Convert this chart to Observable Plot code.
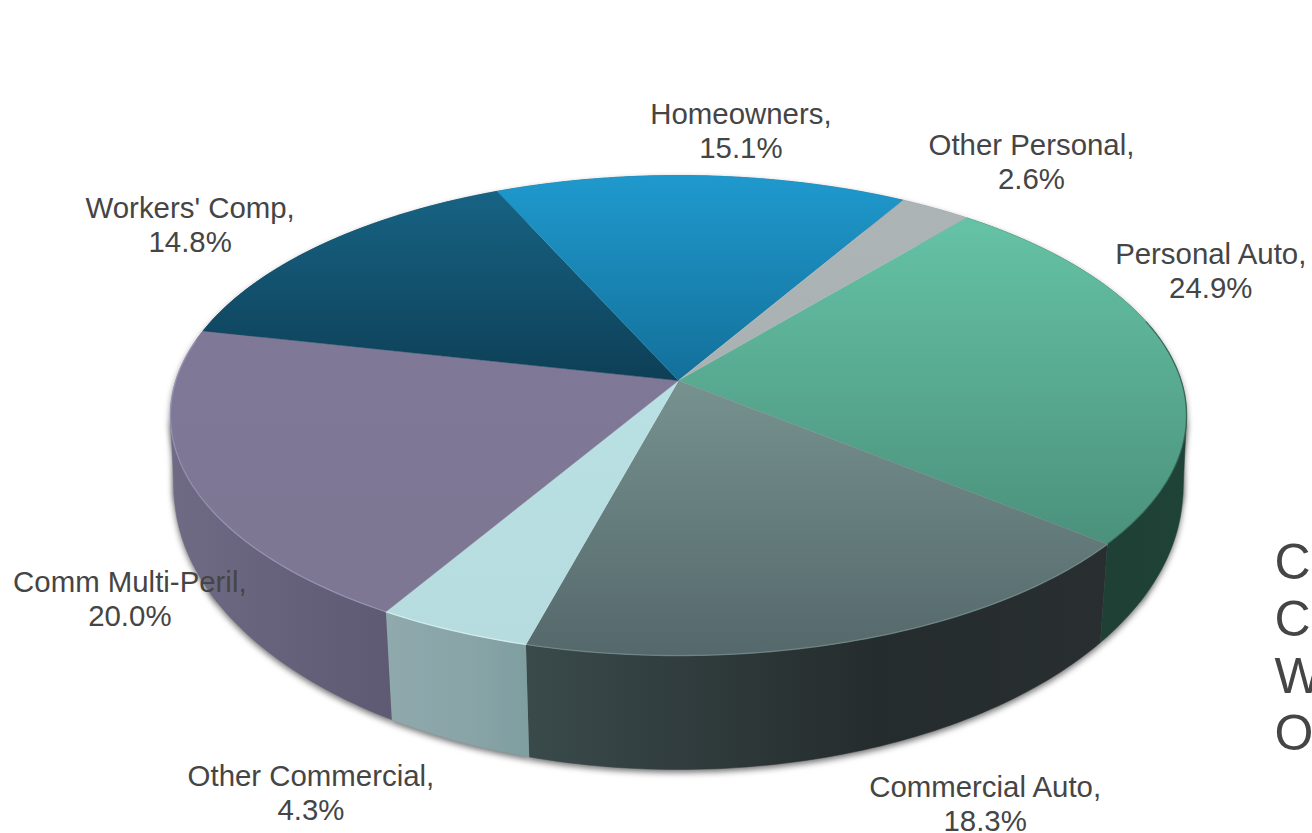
<!DOCTYPE html>
<html>
<head>
<meta charset="utf-8">
<script src="https://cdn.jsdelivr.net/npm/d3@7"></script>
<script src="https://cdn.jsdelivr.net/npm/@observablehq/plot@0.6"></script>
<style>
  html, body { margin: 0; padding: 0; background: #fff; overflow: hidden; }
  svg { display: block; }
</style>
</head>
<body>
<div id="chart"></div>
<script>
// Premium mix by line of business, clockwise from the 40-degree mark
const lines = ["Personal Auto", "Commercial Auto", "Other Commercial", "Comm Multi-Peril", "Workers' Comp", "Homeowners", "Other Personal"];
const shares = [24.9, 18.3, 4.3, 20.0, 14.8, 15.1, 2.6];
const legendStubs = ["Co", "Co", "W", "O"];

// Colours: top face gradient, side wall gradient, rim highlight
const topFrom = ["#65c3a5", "#76928f", "#b9e0e3", "#7f7897", "#176384", "#1f99cd", "#adb4b6"];
const topTo = ["#4b917b", "#55686b", "#b6dcdf", "#7d7793", "#0e3f57", "#13709a", "#a9b1b3"];
const sideFrom = ["#1f3e33", "#3a4a4b", "#8fa9ad", "#6f6b84", "#0d3a4f", "#125f80", "#8b9294"];
const sideMid = ["#1f4034", "#252c2d", "#88a4a7", "#65607a", "#0d3a4f", "#125f80", "#8b9294"];
const sideTo = ["#1f4337", "#292f30", "#7e9ea0", "#5f5a74", "#0d3a4f", "#125f80", "#8b9294"];
const rimTone = ["#27493d", "#7f9795", "#e8fcfe", "#a7a2c4", null, null, null];

// Perspective model of the disc and of the ring it stands on
const centerX = 678, centerY = 380, radiusX = 502.6, radiusY = 234.9, tilt = 0.146;
const floorY = 447, floorRadiusX = 499, floorRadiusY = 275, floorPinch = 0.985;
const startAngle = 39.6, rimFrom = 75, rimTo = 280, shoulderSpan = 22;

// Label placement relative to the rim point at each slice's middle angle
const labelOffsetX = [39, 128, -142, -59, -132, 39, 96];
const labelOffsetY = [-88, 163, 162, 119, -20, -46, -47];

const rad = (deg) => (deg * Math.PI) / 180;
const ring = (cy, rx, ry) => (deg) => {
  const s = 1 / (1 + tilt * Math.cos(rad(deg)));
  return {x: centerX + rx * Math.sin(rad(deg)) * s, y: cy - ry * Math.cos(rad(deg)) * s};
};
const rim = ring(centerY, radiusX, radiusY);
const floorRing = ring(floorY, floorRadiusX, floorRadiusY);
const floor = (deg) => floorRing(180 + (deg - 180) * floorPinch);

// Turn the shares into angular spans
let running = startAngle;
const slices = lines.map((name, i) => {
  const from = running;
  running += (shares[i] / 100) * 360;
  return {name, share: shares[i], i, from, to: running, mid: (from + running) / 2};
});

const arc = ({from, to}) => {
  const n = Math.max(2, Math.ceil(to - from));
  return d3.range(n + 1).map((k) => from + ((to - from) * k) / n);
};
const topPath = (s) => [{x: centerX, y: centerY}, ...arc(s).map(rim)];
const rimPath = (s) => arc({from: Math.max(s.from, rimFrom), to: Math.min(s.to, rimTo)}).map(rim);
const wallPath = (s) => [...arc(s).map(rim), ...arc(s).reverse().map(floor)];

// Widest points of the disc in perspective; the wall's outline leaves the rim there,
// so a slice holding one also gets a patch that fills out the tangent between the rings.
const widest = (Math.acos(-tilt) * 180) / Math.PI;
const shoulders = (s) => [[widest, 1], [360 - widest, -1]]
  .filter(([e]) => s.from <= e && e <= s.to)
  .map(([e, dir]) => [rim(e), floor(e), floor(e + dir * shoulderSpan), rim(e + dir * shoulderSpan)]);
const wallParts = (s) => [wallPath(s), ...shoulders(s)];

// Gradient definitions used by the slice fills
const defs = () => {
  const g = d3.create("svg:g");
  const d = g.append("defs");
  slices.forEach((s) => {
    const top = d.append("linearGradient").attr("id", `top${s.i}`).attr("x1", 0).attr("x2", 0).attr("y1", 0).attr("y2", 1);
    top.append("stop").attr("offset", 0).attr("stop-color", topFrom[s.i]);
    top.append("stop").attr("offset", 1).attr("stop-color", topTo[s.i]);
    const [left, right] = d3.extent(wallPath(s), (p) => p.x);
    const side = d.append("linearGradient").attr("id", `side${s.i}`).attr("gradientUnits", "userSpaceOnUse")
      .attr("x1", left).attr("x2", right).attr("y1", 0).attr("y2", 0);
    side.append("stop").attr("offset", 0).attr("stop-color", sideFrom[s.i]);
    side.append("stop").attr("offset", 0.6).attr("stop-color", sideMid[s.i]);
    side.append("stop").attr("offset", 1).attr("stop-color", sideTo[s.i]);
  });
  return g.node();
};

const line = (points, options) => Plot.line(points, {x: "x", y: "y", ...options});

const chart = Plot.plot({
  width: 1312,
  height: 833,
  margin: 0,
  x: {domain: [0, 1312], range: [0, 1312], axis: null},
  y: {domain: [0, 833], range: [0, 833], axis: null},
  marks: [
    defs,
    // Soft drop shadow under the wall
    ...slices.flatMap((s) => wallParts(s).map((part) => line(part, {fill: "#333", stroke: "none", dy: 3, imageFilter: "blur(3px) opacity(0.7)"}))),
    // Side walls
    ...slices.flatMap((s) => wallParts(s).map((part) => line(part, {fill: `url(#side${s.i})`, stroke: `url(#side${s.i})`, strokeWidth: 0.5}))),
    // Top faces
    ...slices.map((s) => line(topPath(s), {fill: `url(#top${s.i})`, stroke: `url(#top${s.i})`, strokeWidth: 0.6})),
    // Bevel along the front of the rim
    ...slices.filter((s) => rimTone[s.i]).map((s) => line(rimPath(s), {stroke: rimTone[s.i], strokeWidth: 1.3, strokeOpacity: 0.6, imageFilter: "blur(0.6px)"})),
    // Slice labels
    Plot.text(slices, {
      x: (s) => rim(s.mid).x + labelOffsetX[s.i],
      y: (s) => rim(s.mid).y + labelOffsetY[s.i],
      text: (s) => `${s.name},\n${s.share.toFixed(1)}%`,
      fontFamily: "Liberation Sans, Arial, sans-serif",
      fontSize: 29.4,
      lineHeight: 1.157,
      fill: "#454545",
      textAnchor: "middle",
      lineAnchor: "middle"
    }),
    // Legend entries running off the right edge
    Plot.text(legendStubs, {
      x: () => 1274,
      y: (_, i) => 562 + i * 57,
      text: (d) => d,
      fontFamily: "Liberation Sans, Arial, sans-serif",
      fontSize: 50,
      fill: "#454545",
      textAnchor: "start",
      lineAnchor: "middle"
    })
  ]
});
document.getElementById("chart").append(chart);
</script>
</body>
</html>
